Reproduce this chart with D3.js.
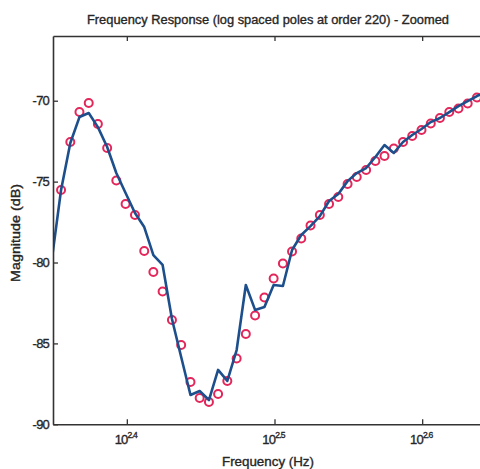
<!DOCTYPE html>
<html><head><meta charset="utf-8">
<script src="https://cdn.jsdelivr.net/npm/d3@7"></script>
<style>
html,body{margin:0;padding:0;background:#fff;}
svg{display:block;}
text{font-family:"Liberation Sans",Arial,sans-serif;fill:#262626;stroke:#262626;stroke-width:0.35px;}
</style></head>
<body>
<svg id="chart" width="480" height="469"></svg>
<script>
// Measured response (red circles): frequency (Hz) and magnitude (dB)
const measFreq = [226.7,230.0,233.3,236.7,240.1,243.6,247.1,250.7,254.4,258.1,261.8,265.6,269.5,273.4,277.4,281.4,285.5,289.6,293.8,298.1,302.4,306.8,311.3,315.8,320.4,325.0,329.7,334.5,339.4,344.3,349.3,354.4,359.5,364.8,370.1,375.4,380.9,386.4,392.0,397.7,403.5,409.3,415.3,421.3,427.4,433.6,439.9];
const measDb = [-75.52,-72.55,-70.70,-70.14,-71.44,-72.92,-74.93,-76.38,-77.06,-79.29,-80.59,-81.79,-83.55,-85.10,-87.38,-88.37,-88.62,-88.13,-87.32,-85.93,-84.42,-83.28,-82.16,-80.99,-80.06,-79.32,-78.52,-77.71,-77.06,-76.38,-75.95,-75.15,-74.72,-74.28,-73.73,-73.42,-72.95,-72.55,-72.18,-71.81,-71.41,-71.07,-70.70,-70.48,-70.17,-69.80,-69.46];
// Model response (blue line)
const modelFreq = [223.5,226.7,230.0,233.3,236.7,240.1,243.6,247.1,250.7,254.4,258.1,261.8,265.6,269.5,273.4,277.4,281.4,285.5,289.6,293.8,298.1,302.4,306.8,311.3,315.8,320.4,325.0,329.7,334.5,339.4,344.3,349.3,354.4,359.5,364.8,370.1,375.4,380.9,386.4,392.0,397.7,403.5,409.3,415.3,421.3,427.4,433.6,439.9];
const modelDb = [-79.78,-75.52,-72.61,-71.01,-70.76,-71.63,-72.86,-74.47,-75.70,-76.94,-77.81,-79.54,-80.15,-83.49,-85.84,-88.19,-87.94,-88.50,-86.64,-87.32,-85.41,-81.39,-82.93,-82.75,-81.39,-81.45,-79.23,-78.30,-77.75,-77.13,-76.20,-75.77,-74.97,-74.47,-74.16,-73.48,-72.74,-73.23,-72.55,-72.12,-71.75,-71.32,-71.07,-70.70,-70.33,-70.02,-69.71,-69.46];
// Axis ticks
const xTickExps = [2.4, 2.5, 2.6];
const yTicks = [-90, -85, -80, -75, -70];
const xDomainExps = [2.35, 2.65];
const yDomain = [-90, -66];

const svg = d3.select("#chart");
const L = 53, R = 496, T = 36, B = 424.3;

const x = d3.scaleLog().domain(xDomainExps.map(e => Math.pow(10, e))).range([L, R]);
const y = d3.scaleLinear().domain(yDomain).range([B, T]);

svg.append("defs").append("clipPath").attr("id", "clip")
  .append("rect").attr("x", L).attr("y", T).attr("width", R - L).attr("height", B - T);

const plot = svg.append("g").attr("clip-path", "url(#clip)");

// circles
plot.selectAll("circle").data(measFreq.map((f, i) => [f, measDb[i]])).enter()
  .append("circle")
  .attr("cx", d => x(d[0])).attr("cy", d => y(d[1])).attr("r", 4)
  .attr("fill", "none").attr("stroke", "#e3275a").attr("stroke-width", 2);

// line
const line = d3.line().x(d => x(d[0])).y(d => y(d[1]));
plot.append("path").datum(modelFreq.map((f, i) => [f, modelDb[i]]))
  .attr("d", line).attr("fill", "none").attr("stroke", "#1d4f8c")
  .attr("stroke-width", 2.6).attr("stroke-linejoin", "round");

const xTickVals = xTickExps.map(e => Math.pow(10, e));

// Axes
const axColor = "#333";
const gLeft = svg.append("g").attr("transform", `translate(${L},0)`)
  .call(d3.axisLeft(y).tickValues(yTicks).tickSizeInner(-5).tickSizeOuter(0).tickPadding(4).tickFormat(d => String(d)));
const gBottom = svg.append("g").attr("transform", `translate(0,${B})`)
  .call(d3.axisBottom(x).tickValues(xTickVals).tickSizeInner(-5).tickSizeOuter(0).tickFormat(""));
const gTop = svg.append("g").attr("transform", `translate(0,${T})`)
  .call(d3.axisTop(x).tickValues(xTickVals).tickSizeInner(-5).tickSizeOuter(0).tickFormat(""));
[gLeft, gBottom, gTop].forEach(g => {
  g.select(".domain").attr("stroke", axColor).attr("stroke-width", 1.6);
  g.selectAll(".tick line").attr("stroke", axColor).attr("stroke-width", 1.3);
});
gLeft.selectAll(".tick text").attr("font-size", 13).attr("letter-spacing", "-0.8")
  .style("font-family", "Liberation Sans, Arial, sans-serif").attr("fill", "#262626");

// x tick labels with superscript
const xl = svg.append("g");
xTickExps.forEach(e => {
  const t = xl.append("text").attr("x", x(Math.pow(10, e)) - 1).attr("y", B + 20)
    .attr("text-anchor", "middle").attr("font-size", 13).attr("letter-spacing", "-0.8");
  t.append("tspan").text("10");
  t.append("tspan").attr("dy", -6).attr("font-size", 8.5).text(String(e));
});

// Title and labels
svg.append("text").attr("x", 268).attr("y", 24).attr("text-anchor", "middle")
  .attr("font-size", 12.5).attr("textLength", 362).attr("lengthAdjust", "spacingAndGlyphs")
  .text("Frequency Response (log spaced poles at order 220) - Zoomed");
svg.append("text").attr("x", 268).attr("y", 466).attr("text-anchor", "middle")
  .attr("font-size", 12.5).attr("textLength", 92).attr("lengthAdjust", "spacingAndGlyphs")
  .text("Frequency (Hz)");
svg.append("text").attr("transform", "translate(20,233) rotate(-90)").attr("text-anchor", "middle")
  .attr("font-size", 12.5).attr("textLength", 98).attr("lengthAdjust", "spacingAndGlyphs")
  .text("Magnitude (dB)");
</script>
</body></html>
